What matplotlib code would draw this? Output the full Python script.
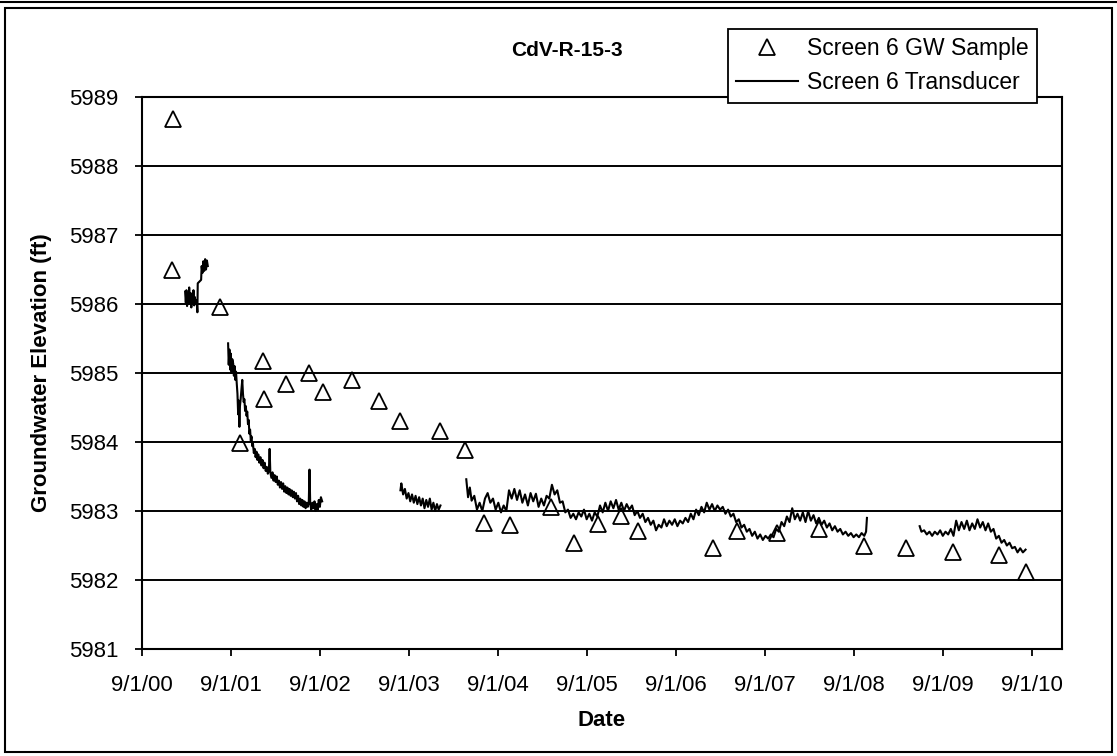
import numpy as np
import matplotlib
matplotlib.use("Agg")
import matplotlib.pyplot as plt
from matplotlib.patches import Rectangle
from matplotlib.lines import Line2D
from datetime import datetime, timedelta

plt.rcParams['font.family'] = ['Liberation Sans', 'DejaVu Sans']

# GW samples (decimal year, elevation ft)
sample_yr = [2001.007, 2001.010, 2001.543, 2001.770, 2002.030, 2002.035, 2002.280, 2002.540,
             2002.700, 2003.030, 2003.330, 2003.570, 2004.010, 2004.300, 2004.510, 2004.800,
             2005.260, 2005.520, 2005.790, 2006.050, 2006.240, 2007.080, 2007.350, 2007.800,
             2008.270, 2008.780, 2009.250, 2009.770, 2010.290, 2010.600]
sample_el = [5986.50, 5988.68, 5985.95, 5983.98, 5985.17, 5984.62, 5984.84, 5985.00,
             5984.72, 5984.90, 5984.59, 5984.30, 5984.16, 5983.88, 5982.82, 5982.79,
             5983.06, 5982.53, 5982.81, 5982.93, 5982.71, 5982.47, 5982.71, 5982.68,
             5982.74, 5982.50, 5982.47, 5982.40, 5982.36, 5982.12]

# transducer record, in separate pieces (gaps between them)
seg1_yr = [2001.150, 2001.158, 2001.165, 2001.172, 2001.180, 2001.188, 2001.196, 2001.204,
           2001.212, 2001.220, 2001.228, 2001.236, 2001.244, 2001.252, 2001.260, 2001.268,
           2001.280, 2001.288, 2001.292, 2001.330, 2001.336, 2001.345, 2001.355, 2001.365,
           2001.375, 2001.385, 2001.395, 2001.405]
seg1_el = [5986.18, 5986.02, 5986.20, 5985.97, 5986.14, 5986.00, 5986.24, 5986.03,
           5986.16, 5985.95, 5986.12, 5986.02, 5986.20, 5985.98, 5986.10, 5986.00,
           5986.05, 5985.88, 5986.30, 5986.35, 5986.55, 5986.45, 5986.62, 5986.48,
           5986.65, 5986.50, 5986.63, 5986.55]

seg2_yr = [2001.633, 2001.640, 2001.648, 2001.656, 2001.664, 2001.672, 2001.680, 2001.690,
           2001.698, 2001.706, 2001.714, 2001.722, 2001.730, 2001.738, 2001.746, 2001.752,
           2001.760, 2001.766, 2001.774, 2001.782, 2001.792, 2001.800, 2001.808, 2001.816,
           2001.824, 2001.832, 2001.840, 2001.848, 2001.856, 2001.864, 2001.872, 2001.880,
           2001.888, 2001.896, 2001.904, 2001.912, 2001.922, 2001.932, 2001.942, 2001.952,
           2001.962, 2001.972, 2001.984, 2001.996, 2002.008, 2002.020, 2002.032, 2002.044,
           2002.056, 2002.068, 2002.080, 2002.092, 2002.100, 2002.108, 2002.120, 2002.132,
           2002.144, 2002.156, 2002.168, 2002.180, 2002.192, 2002.204, 2002.216, 2002.228,
           2002.240, 2002.252, 2002.264, 2002.276, 2002.288, 2002.300, 2002.312, 2002.324,
           2002.336, 2002.348, 2002.360, 2002.372, 2002.384, 2002.396, 2002.408, 2002.420,
           2002.432, 2002.444, 2002.456, 2002.468, 2002.480, 2002.492, 2002.504, 2002.516,
           2002.528, 2002.540, 2002.548, 2002.556, 2002.568, 2002.580, 2002.592, 2002.604,
           2002.616, 2002.628, 2002.640, 2002.652, 2002.664, 2002.676, 2002.690]
seg2_el = [5985.43, 5985.12, 5985.34, 5985.05, 5985.28, 5985.00, 5985.20, 5985.14,
           5984.96, 5985.10, 5984.90, 5985.02, 5984.85, 5984.70, 5984.40, 5984.60,
           5984.22, 5984.52, 5984.62, 5984.75, 5984.90, 5984.70, 5984.58, 5984.62,
           5984.45, 5984.52, 5984.38, 5984.44, 5984.26, 5984.32, 5984.12, 5984.18,
           5984.02, 5984.08, 5983.94, 5983.98, 5983.84, 5983.90, 5983.78, 5983.86,
           5983.74, 5983.82, 5983.70, 5983.78, 5983.66, 5983.74, 5983.62, 5983.70,
           5983.58, 5983.64, 5983.54, 5983.60, 5983.90, 5983.56, 5983.48, 5983.56,
           5983.44, 5983.52, 5983.42, 5983.50, 5983.38, 5983.44, 5983.34, 5983.42,
           5983.32, 5983.40, 5983.28, 5983.36, 5983.26, 5983.34, 5983.24, 5983.32,
           5983.22, 5983.30, 5983.20, 5983.28, 5983.18, 5983.26, 5983.14, 5983.22,
           5983.10, 5983.18, 5983.08, 5983.16, 5983.06, 5983.14, 5983.04, 5983.12,
           5983.06, 5983.14, 5983.60, 5983.10, 5983.02, 5983.12, 5983.04, 5983.14,
           5983.00, 5983.10, 5983.02, 5983.16, 5983.06, 5983.20, 5983.14]

seg3_yr = [2003.57, 2003.58, 2003.60, 2003.62, 2003.64, 2003.66, 2003.68, 2003.70,
           2003.72, 2003.74, 2003.76, 2003.78, 2003.80, 2003.82, 2003.84, 2003.86,
           2003.88, 2003.90, 2003.92, 2003.94, 2003.96, 2003.98, 2004.00, 2004.02]
seg3_el = [5983.30, 5983.40, 5983.24, 5983.32, 5983.18, 5983.26, 5983.14, 5983.24,
           5983.12, 5983.22, 5983.10, 5983.20, 5983.08, 5983.18, 5983.04, 5983.16,
           5983.06, 5983.18, 5983.02, 5983.12, 5983.00, 5983.10, 5983.02, 5983.08]

seg4_yr = [2004.31, 2004.33, 2004.35, 2004.37, 2004.40, 2004.43, 2004.46, 2004.49,
           2004.52, 2004.55, 2004.58, 2004.61, 2004.64, 2004.67, 2004.70, 2004.73,
           2004.76, 2004.79, 2004.82, 2004.85, 2004.88, 2004.91, 2004.94, 2004.97,
           2005.00, 2005.03, 2005.06, 2005.09, 2005.12, 2005.15, 2005.18, 2005.21,
           2005.24, 2005.27, 2005.30, 2005.33, 2005.36, 2005.39, 2005.42, 2005.45,
           2005.48, 2005.51, 2005.54, 2005.57, 2005.60, 2005.63, 2005.66, 2005.69,
           2005.72, 2005.75, 2005.78, 2005.81, 2005.84, 2005.87, 2005.90, 2005.93,
           2005.96, 2005.99, 2006.02, 2006.05, 2006.08, 2006.11, 2006.14, 2006.17,
           2006.20, 2006.23, 2006.26, 2006.29, 2006.32, 2006.35, 2006.38, 2006.41,
           2006.44, 2006.47, 2006.50, 2006.53, 2006.56, 2006.59, 2006.62, 2006.65,
           2006.68, 2006.71, 2006.74, 2006.77, 2006.80, 2006.83, 2006.86, 2006.89,
           2006.92, 2006.95, 2006.98, 2007.01, 2007.04, 2007.07, 2007.10, 2007.13,
           2007.16, 2007.19, 2007.22, 2007.25, 2007.28, 2007.31, 2007.34, 2007.37,
           2007.40, 2007.43, 2007.46, 2007.49, 2007.52, 2007.55, 2007.58, 2007.61,
           2007.64, 2007.67, 2007.70, 2007.73, 2007.76, 2007.79, 2007.82, 2007.85,
           2007.88, 2007.91, 2007.94, 2007.97, 2008.00, 2008.03, 2008.06, 2008.09,
           2008.12, 2008.15, 2008.18, 2008.21, 2008.24, 2008.27, 2008.30, 2008.33,
           2008.36, 2008.39, 2008.42, 2008.45, 2008.48, 2008.51, 2008.54, 2008.57,
           2008.60, 2008.63, 2008.66, 2008.69, 2008.72, 2008.75, 2008.78, 2008.80,
           2008.81]
seg4_el = [5983.46, 5983.20, 5983.34, 5983.15, 5983.22, 5983.02, 5983.12, 5983.00,
           5983.18, 5983.26, 5983.12, 5983.18, 5983.02, 5983.12, 5982.98, 5983.08,
           5983.00, 5983.30, 5983.18, 5983.32, 5983.16, 5983.30, 5983.12, 5983.24,
           5983.08, 5983.26, 5983.14, 5983.25, 5983.06, 5983.18, 5983.08, 5983.22,
           5983.18, 5983.38, 5983.24, 5983.30, 5983.12, 5983.14, 5982.98, 5983.02,
           5982.90, 5982.96, 5982.88, 5982.98, 5982.92, 5983.02, 5982.88, 5982.96,
           5982.86, 5982.98, 5982.92, 5983.08, 5982.98, 5983.12, 5983.00, 5983.14,
           5983.04, 5983.16, 5983.02, 5983.12, 5983.00, 5983.10, 5983.02, 5983.08,
           5982.94, 5983.00, 5982.90, 5982.96, 5982.84, 5982.90, 5982.80, 5982.86,
           5982.72, 5982.80, 5982.76, 5982.88, 5982.78, 5982.86, 5982.80, 5982.88,
           5982.78, 5982.86, 5982.82, 5982.90, 5982.84, 5982.96, 5982.88, 5983.02,
           5982.94, 5983.06, 5982.98, 5983.12, 5983.02, 5983.10, 5983.00, 5983.08,
           5983.02, 5983.06, 5982.96, 5983.02, 5982.92, 5982.96, 5982.84, 5982.88,
           5982.76, 5982.80, 5982.70, 5982.74, 5982.64, 5982.70, 5982.60, 5982.66,
           5982.58, 5982.64, 5982.60, 5982.66, 5982.62, 5982.74, 5982.70, 5982.84,
           5982.78, 5982.92, 5982.84, 5983.04, 5982.88, 5982.96, 5982.86, 5982.98,
           5982.84, 5983.00, 5982.86, 5982.94, 5982.82, 5982.90, 5982.80, 5982.86,
           5982.76, 5982.82, 5982.72, 5982.78, 5982.70, 5982.74, 5982.66, 5982.70,
           5982.64, 5982.68, 5982.62, 5982.66, 5982.62, 5982.68, 5982.64, 5982.70,
           5982.90]

seg5_yr = [2009.40, 2009.42, 2009.45, 2009.48, 2009.51, 2009.54, 2009.57, 2009.60,
           2009.63, 2009.66, 2009.69, 2009.72, 2009.75, 2009.78, 2009.81, 2009.84,
           2009.87, 2009.90, 2009.93, 2009.96, 2009.99, 2010.02, 2010.05, 2010.08,
           2010.11, 2010.14, 2010.17, 2010.20, 2010.23, 2010.26, 2010.29, 2010.32,
           2010.35, 2010.38, 2010.41, 2010.44, 2010.47, 2010.50, 2010.53, 2010.56,
           2010.59]
seg5_el = [5982.78, 5982.70, 5982.72, 5982.66, 5982.70, 5982.64, 5982.70, 5982.66,
           5982.72, 5982.64, 5982.70, 5982.66, 5982.74, 5982.64, 5982.86, 5982.72,
           5982.84, 5982.74, 5982.86, 5982.72, 5982.82, 5982.74, 5982.88, 5982.76,
           5982.84, 5982.72, 5982.82, 5982.70, 5982.74, 5982.60, 5982.64, 5982.54,
           5982.58, 5982.50, 5982.54, 5982.46, 5982.48, 5982.40, 5982.46, 5982.40,
           5982.44]

segments = [(seg1_yr, seg1_el), (seg2_yr, seg2_el), (seg3_yr, seg3_el),
            (seg4_yr, seg4_el), (seg5_yr, seg5_el)]

tick_dates = [datetime(2000 + i, 9, 1) for i in range(11)]
tick_labels = ["9/1/%02d" % i for i in range(11)]


def to_date(yr):
    y = int(yr)
    return datetime(y, 1, 1) + timedelta(days=(yr - y) * 365.25)


W, H = 1117, 756
fig = plt.figure(figsize=(W / 100, H / 100), dpi=100)
ax = fig.add_axes([142 / W, 1 - 649 / H, 920 / W, 552 / H])

for i, (yr, el) in enumerate(segments):
    ax.plot([to_date(v) for v in yr], el, 'k-', linewidth=1.5, zorder=3,
            label="Screen 6 Transducer" if i == 0 else None)

ax.plot([to_date(v) for v in sample_yr], sample_el, linestyle='none', marker='^',
        markersize=11, markerfacecolor='none', markeredgecolor='k', markeredgewidth=1.3,
        zorder=4, label="Screen 6 GW Sample")

ax.set_xlim(datetime(2000, 9, 1), datetime(2011, 1, 1))
ax.set_ylim(5981, 5989)
ax.set_yticks(range(5981, 5990))
ax.set_xticks(tick_dates)
ax.set_xticklabels(tick_labels)
ax.tick_params(direction='out', length=5, width=1.3, labelsize=16)
ax.tick_params(axis='x', pad=14)
ax.tick_params(axis='y', pad=12)
ax.yaxis.grid(True, color='k', linewidth=1.4)
ax.set_axisbelow(True)
for s in ax.spines.values():
    s.set_linewidth(1.5)

ax.set_xlabel("Date", fontsize=16, fontweight='bold', labelpad=10)
ax.set_ylabel("Groundwater Elevation (ft)", fontsize=16, fontweight='bold', labelpad=12)

fig.text(567 / W, 1 - 50 / H, "CdV-R-15-3", fontsize=15, fontweight='bold',
         ha='center', va='center')

h, l = ax.get_legend_handles_labels()
leg = ax.legend(h[::-1], l[::-1], loc='upper right', bbox_to_anchor=(1037 / W, 1 - 29 / H),
                bbox_transform=fig.transFigure, fontsize=16.5, frameon=True, fancybox=False,
                framealpha=1, edgecolor='k', handlelength=2.7, handletextpad=0.4,
                labelspacing=0.5, borderpad=0.35, borderaxespad=0)
leg.get_frame().set_linewidth(1.3)
leg.set_zorder(10)

# page frame with the double rule at the top
fig.patches.append(Rectangle((5 / W, 4 / H), 1107 / W, 744 / H, transform=fig.transFigure,
                             fill=False, edgecolor='k', linewidth=1.5))
fig.lines.append(Line2D([0, 1], [1 - 2 / H, 1 - 2 / H], transform=fig.transFigure,
                        color='k', linewidth=1.5))

fig.savefig("out.png", dpi=100)
